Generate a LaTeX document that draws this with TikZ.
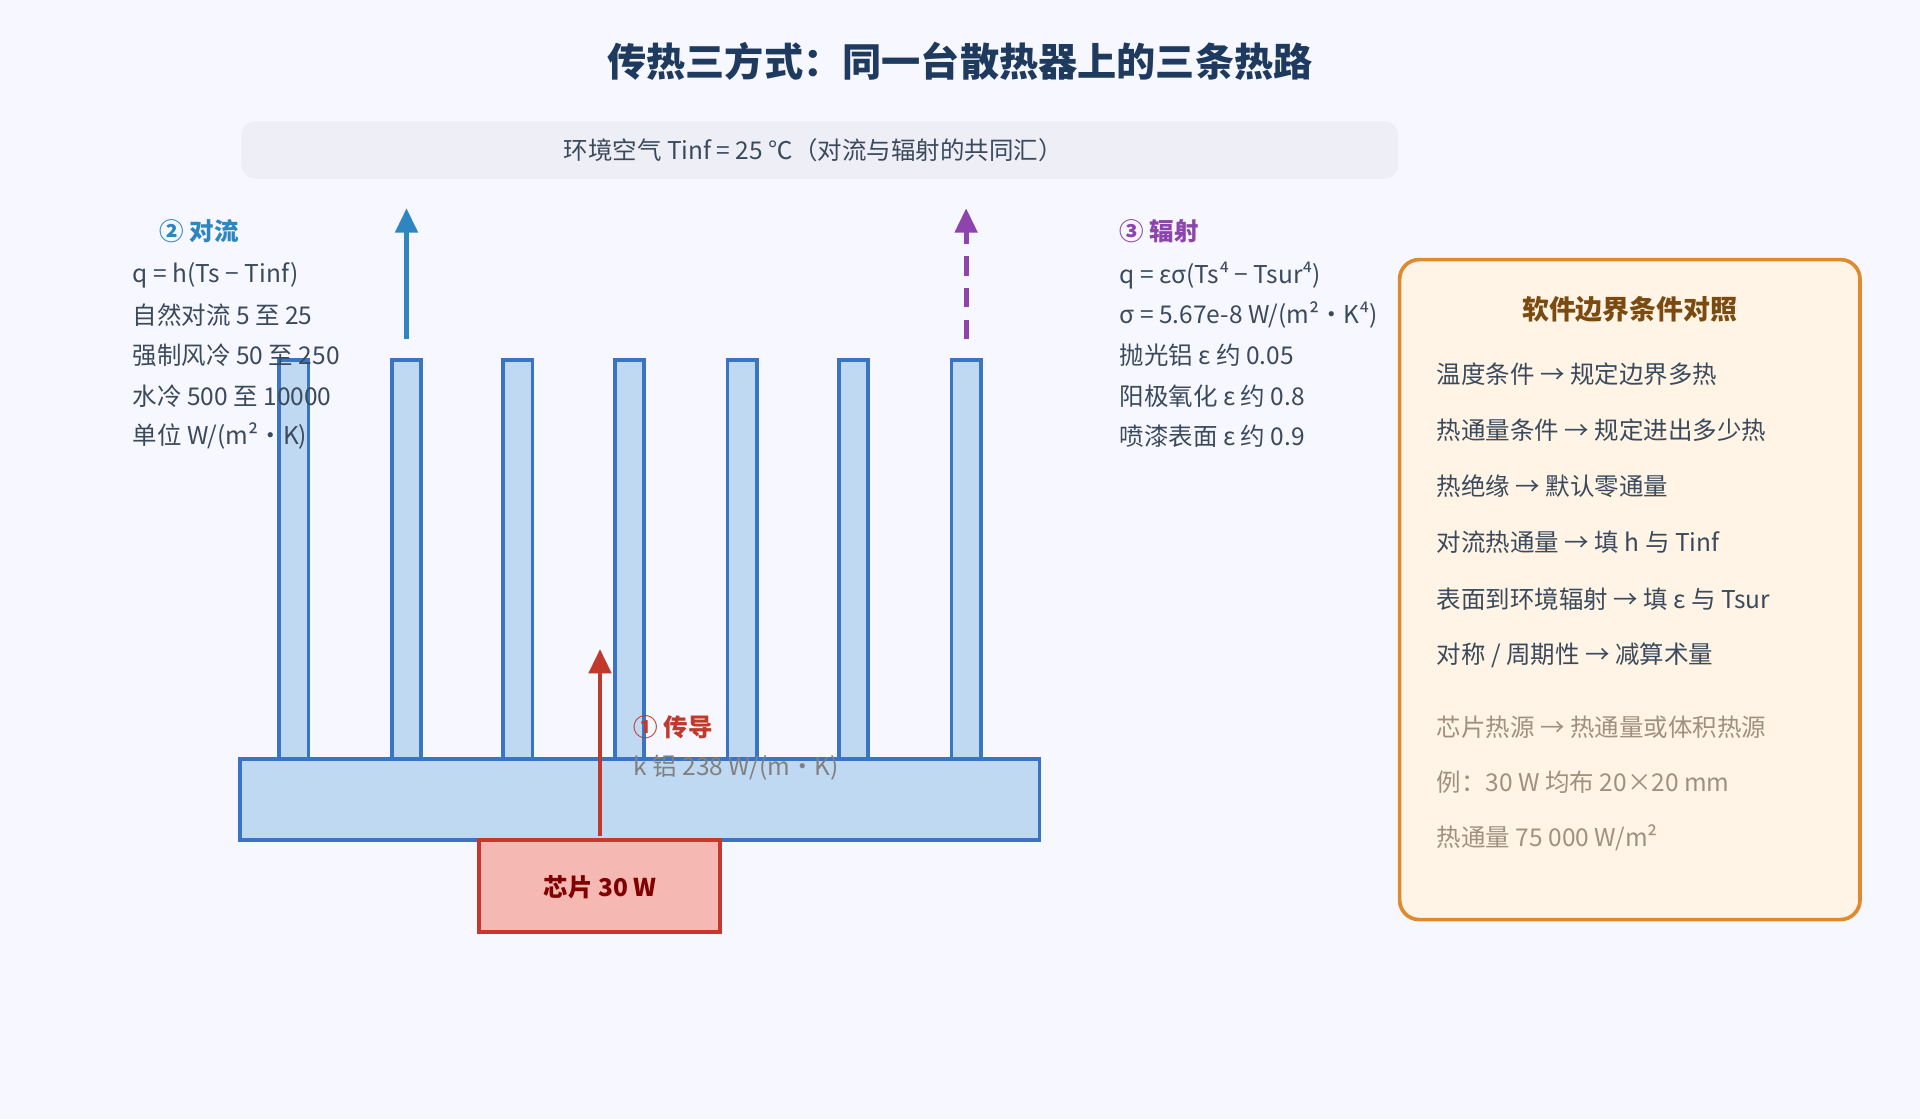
\documentclass[tikz,border=0pt]{standalone}
\usepackage{fontspec}
\setmainfont{Noto Sans CJK SC}
\usetikzlibrary{arrows.meta}
\definecolor{navy}{HTML}{1F3A5F}
\definecolor{finfill}{HTML}{C0D9F2}
\definecolor{finline}{HTML}{3A74C4}
\definecolor{chipfill}{HTML}{F5B8B3}
\definecolor{chipline}{HTML}{C8372D}
\definecolor{condred}{HTML}{C0392B}
\definecolor{convblue}{HTML}{2E86C1}
\definecolor{radpurple}{HTML}{8E44AD}
\definecolor{txt}{HTML}{3A4A5C}
\definecolor{panelfill}{HTML}{FFF4E5}
\definecolor{panelline}{HTML}{E08A2E}
\definecolor{brown}{HTML}{7A4A10}
\definecolor{greytxt}{HTML}{A09080}
\tikzset{
  fin/.style={draw=finline,fill=finfill,line width=1.5pt},
  txtline/.style={anchor=west,font=\fontsize{10}{12}\selectfont,text=txt,inner sep=0pt},
  head/.style={anchor=west,font=\fontsize{10}{12}\selectfont\bfseries,inner sep=0pt},
  flow/.style={line width=2pt,-{Triangle[length=10pt,width=9pt]}}
}
\begin{document}
\begin{tikzpicture}[x=0.5pt,y=-0.5pt]
\useasboundingbox[fill=white!97!blue] (0,0) rectangle (1568,914);
% title and ambient air
\node[font=\fontsize{16}{18}\selectfont\bfseries,text=navy] (title) at (784,50) {传热三方式：同一台散热器上的三条热路};
\fill[fill=blue!30!gray!10,rounded corners=6pt] (197,99) rectangle (1142,146);
\node[font=\fontsize{10}{12}\selectfont,text=txt] (air) at (664,123) {环境空气 Tinf = 25 ℃（对流与辐射的共同汇）};
% fins, base, chip
\foreach \x in {240,332,423,514,606,697,789}
  \draw[fin] (\x-12,294) rectangle (\x+12,620);
\draw[fin] (196,620) rectangle (849,686);
\draw[draw=chipline,fill=chipfill,line width=1.5pt] (391,686) rectangle (588,761);
\node[font=\fontsize{10}{12}\selectfont\bfseries,text=red!50!black] (chip) at (490,725) {芯片 30 W};
% heat paths
\coordinate (c0) at (490,683); \coordinate (c1) at (490,530);
\draw[flow,condred] (c0) -- (c1);
\coordinate (v0) at (332,277); \coordinate (v1) at (332,170);
\draw[flow,convblue] (v0) -- (v1);
\coordinate (r0) at (789,277); \coordinate (r1) at (789,170);
\draw[flow,radpurple,dash pattern=on 8pt off 5pt] (r0) -- (r1);
% labels
\node[head,text=condred] (cond) at (517,594) {① 传导};
\node[txtline,text=gray] (condk) at (517,627) {k 铝 238 W/(m·K)};
\node[head,text=convblue] (conv) at (130,189) {② 对流};
\foreach \t [count=\i] in {q = h(Ts − Tinf),自然对流 5 至 25,强制风冷 50 至 250,水冷 500 至 10000,单位 W/(m²·K)}
  \node[txtline] (conv\i) at (108,192+\i*32.8) {\t};
\node[head,text=radpurple] (rad) at (914,189) {③ 辐射};
\foreach \t [count=\i] in {q = εσ(Ts⁴ − Tsur⁴),σ = 5.67e-8 W/(m²·K⁴),抛光铝 ε 约 0.05,阳极氧化 ε 约 0.8,喷漆表面 ε 约 0.9}
  \node[txtline] (rad\i) at (914,192+\i*32.8) {\t};
% software panel
\draw[draw=panelline,fill=panelfill,line width=1.5pt,rounded corners=8pt] (1143,212) rectangle (1519,751);
\node[font=\fontsize{11}{13}\selectfont\bfseries,text=brown] (ptitle) at (1331,253) {软件边界条件对照};
\foreach \t [count=\i] in {温度条件 → 规定边界多热,热通量条件 → 规定进出多少热,热绝缘 → 默认零通量,对流热通量 → 填 h 与 Tinf,表面到环境辐射 → 填 ε 与 Tsur,对称 / 周期性 → 减算术量}
  \node[txtline] (sw\i) at (1173,260+\i*45.8) {\t};
\foreach \t [count=\i] in {芯片热源 → 热通量或体积热源,例：30 W 均布 20×20 mm,热通量 75 000 W/m²}
  \node[txtline,text=greytxt] (ex\i) at (1173,548+\i*45.5) {\t};
\end{tikzpicture}
\end{document}
